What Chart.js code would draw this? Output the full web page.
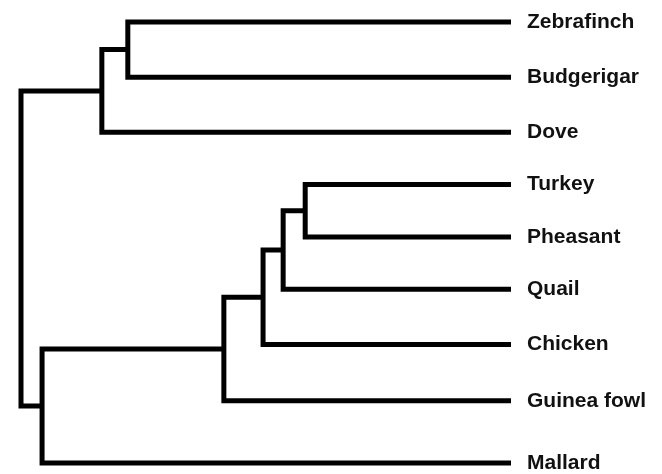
<!DOCTYPE html>
<html>
<head>
<meta charset="utf-8">
<script src="https://cdn.jsdelivr.net/npm/chart.js@4.4.1/dist/chart.umd.min.js"></script>
<style>
  body { margin: 0; background: #fff; }
  #wrap { width: 662px; height: 474px; position: relative; }
</style>
</head>
<body>
<div id="wrap"><canvas id="tree"></canvas></div>
<script>
// leaves, top to bottom
var leafNames = ['Zebrafinch', 'Budgerigar', 'Dove', 'Turkey', 'Pheasant', 'Quail', 'Chicken', 'Guinea fowl', 'Mallard'];
var leafRow = [0, 1, 2, 2.95, 3.9, 4.85, 5.85, 6.87, 8];

// merges: node 9 onward, children by id, height along the x axis (leaves sit at 100)
var mergeLeft   = [0, 9, 3, 11, 12, 13, 14, 10];
var mergeRight  = [1, 2, 4, 5, 6, 7, 8, 15];
var mergeHeight = [21.8, 16.5, 58.0, 53.5, 49.4, 41.4, 4.3, 0];

var leafHeight = 100;

var nodeX = [], nodeY = [];
for (var i = 0; i < leafNames.length; i++) {
    nodeX.push(leafHeight);
    nodeY.push(leafRow[i]);
}

var datasets = [];
for (var m = 0; m < mergeLeft.length; m++) {
    var a = mergeLeft[m], b = mergeRight[m], h = mergeHeight[m];
    datasets.push({
        data: [
            {x: nodeX[a], y: nodeY[a]},
            {x: h, y: nodeY[a]},
            {x: h, y: nodeY[b]},
            {x: nodeX[b], y: nodeY[b]}
        ],
        showLine: true,
        borderColor: '#000',
        borderWidth: 5,
        borderJoinStyle: 'miter',
        borderCapStyle: 'butt',
        pointRadius: 0,
        tension: 0,
        clip: false
    });
    nodeX.push(h);
    nodeY.push((nodeY[a] + nodeY[b]) / 2);
}

new Chart(document.getElementById('tree').getContext('2d'), {
    type: 'scatter',
    data: { datasets: datasets },
    options: {
        responsive: true,
        maintainAspectRatio: false,
        animation: false,
        layout: { padding: { left: 21, right: 0, top: 22, bottom: 11 } },
        plugins: { legend: { display: false }, tooltip: { enabled: false } },
        scales: {
            x: { type: 'linear', min: 0, max: leafHeight, display: false },
            y: {
                type: 'linear',
                position: 'right',
                reverse: true,
                min: 0,
                max: 8,
                grid: { display: false, drawTicks: false },
                border: { display: false },
                afterBuildTicks: function(scale) {
                    scale.ticks = leafRow.map(function(v){ return {value: v}; });
                },
                afterFit: function(scale) {
                    scale.width = 151;
                    scale.paddingTop = 0;
                    scale.paddingBottom = 0;
                },
                ticks: {
                    autoSkip: false,
                    padding: 16,
                    color: '#111',
                    font: { family: '"Liberation Sans", Arial, sans-serif', weight: 'bold', size: 21 },
                    callback: function(value, index) { return leafNames[index]; }
                }
            }
        }
    }
});
</script>
</body>
</html>
